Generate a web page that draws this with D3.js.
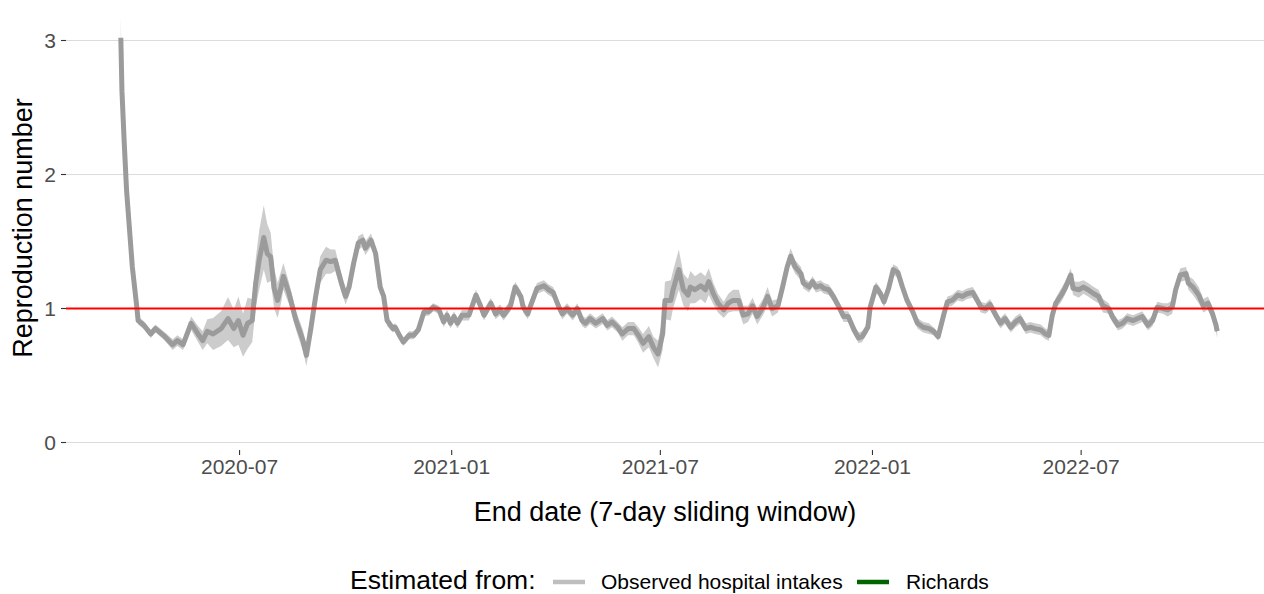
<!DOCTYPE html>
<html>
<head>
<meta charset="utf-8">
<script src="https://cdn.jsdelivr.net/npm/d3@7"></script>
<style>
  html, body { margin: 0; padding: 0; background: #ffffff; }
  svg { display: block; }
  text { font-family: "Liberation Sans", Arial, sans-serif; }
</style>
</head>
<body>
<svg id="chart" width="1264" height="594"></svg>
<script>
// ---------------- data ----------------
const startDate = "2020-03-20";
const dayOffsets = [0,1,3,5,10,14,15,20,26,30,37,45,49,54,61,67,71,75,80,87,93,98,102,106,110,114,117,120,124,127,130,133,136,139,141,146,152,158,161,165,169,173,178,182,186,191,195,198,202,206,210,212,217,221,225,228,231,236,238,241,245,250,254,258,263,267,271,276,280,283,286,289,292,296,302,308,312,315,321,325,329,332,338,342,347,349,353,355,361,367,371,375,380,383,387,392,396,400,403,407,412,418,422,426,431,435,440,445,449,453,458,462,466,470,472,477,479,484,488,492,494,498,503,507,510,514,518,523,527,531,536,540,544,548,552,557,561,565,570,574,578,581,585,590,592,597,600,603,607,610,614,618,623,627,631,636,640,643,648,650,655,659,662,666,670,674,678,682,687,691,696,701,705,709,714,717,721,726,730,734,739,743,746,750,754,759,763,767,772,776,780,785,789,793,798,802,805,808,811,815,819,824,826,831,835,839,844,848,852,857,860,865,869,873,878,882,886,891,895,899,904,908,912,915,919,924,926,930,935,939,943,947,950,951];
const rValues = [3.02,2.62,2.23,1.88,1.31,1.0,0.91,0.875,0.81,0.85,0.80,0.73,0.76,0.73,0.89,0.81,0.76,0.83,0.81,0.85,0.925,0.85,0.91,0.80,0.89,0.91,1.19,1.36,1.53,1.41,1.385,1.15,1.06,1.16,1.24,1.11,0.91,0.76,0.65,0.86,1.09,1.29,1.36,1.35,1.36,1.20,1.09,1.16,1.34,1.49,1.51,1.45,1.51,1.41,1.16,1.09,0.91,0.85,0.86,0.81,0.75,0.80,0.80,0.84,0.975,0.975,1.01,0.99,0.90,0.95,0.89,0.94,0.89,0.95,0.95,1.10,1.02,0.95,1.04,0.96,0.99,0.95,1.02,1.16,1.09,1.01,0.96,1.01,1.15,1.17,1.14,1.12,1.01,0.96,1.0,0.95,1.0,0.91,0.89,0.925,0.89,0.925,0.875,0.90,0.86,0.81,0.85,0.85,0.80,0.74,0.79,0.71,0.66,0.81,1.06,1.06,1.14,1.29,1.14,1.10,1.16,1.14,1.17,1.14,1.20,1.11,1.04,0.99,1.04,1.06,1.06,0.95,0.96,1.02,0.94,1.01,1.09,1.0,1.02,1.16,1.31,1.39,1.31,1.26,1.19,1.16,1.20,1.16,1.17,1.15,1.14,1.09,1.01,0.94,0.94,0.84,0.78,0.79,0.86,1.01,1.16,1.11,1.05,1.15,1.29,1.27,1.16,1.06,0.975,0.89,0.86,0.85,0.83,0.79,0.96,1.05,1.06,1.10,1.09,1.11,1.12,1.06,1.01,1.0,1.03,0.95,0.89,0.925,0.86,0.90,0.925,0.85,0.86,0.85,0.84,0.81,0.80,0.95,1.04,1.09,1.15,1.25,1.15,1.14,1.16,1.14,1.11,1.09,1.02,1.0,0.94,0.875,0.89,0.925,0.91,0.925,0.94,0.875,0.91,1.01,1.0,0.99,1.01,1.14,1.25,1.26,1.19,1.16,1.10,1.02,1.04,0.96,0.875,0.83];
const ciHalfWidth = [0.16,0.06,0.04,0.03,0.03,0.03,0.03,0.03,0.03,0.03,0.03,0.04,0.04,0.04,0.05,0.06,0.07,0.09,0.12,0.13,0.16,0.14,0.18,0.16,0.19,0.16,0.18,0.22,0.24,0.22,0.18,0.15,0.13,0.12,0.10,0.08,0.07,0.08,0.08,0.08,0.09,0.10,0.10,0.09,0.08,0.07,0.06,0.06,0.06,0.05,0.05,0.05,0.05,0.04,0.04,0.04,0.04,0.03,0.03,0.03,0.03,0.03,0.03,0.03,0.03,0.03,0.03,0.03,0.04,0.04,0.04,0.04,0.04,0.04,0.04,0.04,0.04,0.04,0.04,0.04,0.04,0.04,0.04,0.04,0.04,0.04,0.04,0.04,0.04,0.04,0.04,0.04,0.04,0.04,0.04,0.04,0.04,0.04,0.04,0.04,0.04,0.04,0.04,0.04,0.04,0.05,0.05,0.05,0.06,0.07,0.08,0.08,0.10,0.12,0.14,0.15,0.14,0.15,0.12,0.12,0.12,0.10,0.10,0.10,0.10,0.08,0.07,0.06,0.07,0.08,0.08,0.07,0.06,0.06,0.06,0.06,0.07,0.06,0.05,0.05,0.05,0.06,0.05,0.05,0.04,0.04,0.04,0.04,0.04,0.04,0.04,0.04,0.04,0.04,0.04,0.04,0.04,0.04,0.04,0.04,0.04,0.04,0.04,0.04,0.04,0.04,0.04,0.04,0.04,0.04,0.04,0.04,0.03,0.03,0.03,0.04,0.04,0.04,0.04,0.04,0.04,0.04,0.04,0.04,0.04,0.04,0.04,0.04,0.04,0.04,0.04,0.04,0.04,0.04,0.04,0.04,0.04,0.04,0.04,0.05,0.05,0.05,0.05,0.06,0.05,0.05,0.05,0.05,0.05,0.04,0.04,0.04,0.04,0.04,0.04,0.04,0.04,0.04,0.04,0.04,0.04,0.05,0.05,0.05,0.05,0.05,0.05,0.06,0.06,0.05,0.05,0.05,0.05,0.05,0.05,0.05,0.05];
const yTicks = [0, 1, 2, 3];
const xTickLabels = ["2020-07", "2021-01", "2021-07", "2022-01", "2022-07"];
const referenceValue = 1;
const legendTitle = "Estimated from:";
const legendLabels = ["Observed hospital intakes", "Richards"];
const legendColors = ["#bebebe", "#006400"];
const xTitle = "End date (7-day sliding window)";
const yTitle = "Reproduction number";

// ---------------- build ----------------
const parse = d3.timeParse("%Y-%m-%d");
const t0 = parse(startDate);
const data = dayOffsets.map((o, i) => ({
  date: d3.timeDay.offset(t0, o),
  r: rValues[i],
  lo: rValues[i] - ciHalfWidth[i],
  hi: rValues[i] + ciHalfWidth[i]
}));

const svg = d3.select("#chart");
const panel = { left: 66, right: 1272 };

const ext = d3.extent(data, d => d.date);
const span = ext[1] - ext[0];
const x = d3.scaleTime()
  .domain([new Date(+ext[0] - span * 0.05), new Date(+ext[1] + span * 0.05)])
  .range([panel.left, panel.right]);
const y = d3.scaleLinear().domain([0, 3]).range([442.5, 40.5]);

// grid
svg.append("g").selectAll("line").data(yTicks).join("line")
  .attr("x1", panel.left).attr("x2", 1264)
  .attr("y1", d => y(d)).attr("y2", d => y(d))
  .attr("stroke", "#dcdcdc").attr("stroke-width", 1.1);

// ribbon
svg.append("path").datum(data)
  .attr("fill", "#cccccc")
  .attr("d", d3.area().x(d => x(d.date)).y0(d => y(d.lo)).y1(d => y(d.hi)));

// line
svg.append("path").datum(data)
  .attr("fill", "none").attr("stroke", "#9b9b9b")
  .attr("stroke-width", 5).attr("stroke-linejoin", "round")
  .attr("d", d3.line().x(d => x(d.date)).y(d => y(d.r)));

// reference line
svg.append("line")
  .attr("x1", panel.left).attr("x2", 1264)
  .attr("y1", y(referenceValue)).attr("y2", y(referenceValue))
  .attr("stroke", "#ff0000").attr("stroke-width", 2);

// y axis
const yAxis = svg.append("g");
yAxis.selectAll("line").data(yTicks).join("line")
  .attr("x1", 61).attr("x2", 66)
  .attr("y1", d => y(d)).attr("y2", d => y(d))
  .attr("stroke", "#333333").attr("stroke-width", 1.1);
yAxis.selectAll("text").data(yTicks).join("text")
  .attr("x", 56).attr("y", d => y(d))
  .attr("dy", "0.36em")
  .attr("text-anchor", "end")
  .attr("font-size", 21).attr("fill", "#4d4d4d")
  .text(d => d);

// x axis
const xTickDates = xTickLabels.map(s => d3.timeParse("%Y-%m")(s));
const xAxis = svg.append("g");
xAxis.selectAll("line").data(xTickDates).join("line")
  .attr("x1", d => x(d)).attr("x2", d => x(d))
  .attr("y1", 450).attr("y2", 455)
  .attr("stroke", "#333333").attr("stroke-width", 1.1);
xAxis.selectAll("text").data(xTickDates).join("text")
  .attr("x", d => x(d)).attr("y", 474)
  .attr("text-anchor", "middle")
  .attr("font-size", 21).attr("fill", "#4d4d4d")
  .text(d => d3.timeFormat("%Y-%m")(d));

// titles
svg.append("text")
  .attr("x", (panel.left + 1264) / 2).attr("y", 521)
  .attr("text-anchor", "middle").attr("font-size", 27).attr("fill", "#000")
  .text(xTitle);
svg.append("text")
  .attr("transform", "translate(32,228) rotate(-90)")
  .attr("text-anchor", "middle").attr("font-size", 27).attr("fill", "#000")
  .text(yTitle);

// legend
const lg = svg.append("g");
const ly = 582;
lg.append("text").attr("x", 350).attr("y", 588.5)
  .attr("font-size", 26.5).attr("fill", "#000").text(legendTitle);
const keyX = [553, 857];
const labX = [601, 906];
legendLabels.forEach((lab, i) => {
  lg.append("line").attr("x1", keyX[i]).attr("x2", keyX[i] + 32)
    .attr("y1", ly).attr("y2", ly)
    .attr("stroke", legendColors[i]).attr("stroke-width", 4.5);
  lg.append("text").attr("x", labX[i]).attr("y", 589)
    .attr("font-size", 21).attr("fill", "#000").text(lab);
});
</script>
</body>
</html>
